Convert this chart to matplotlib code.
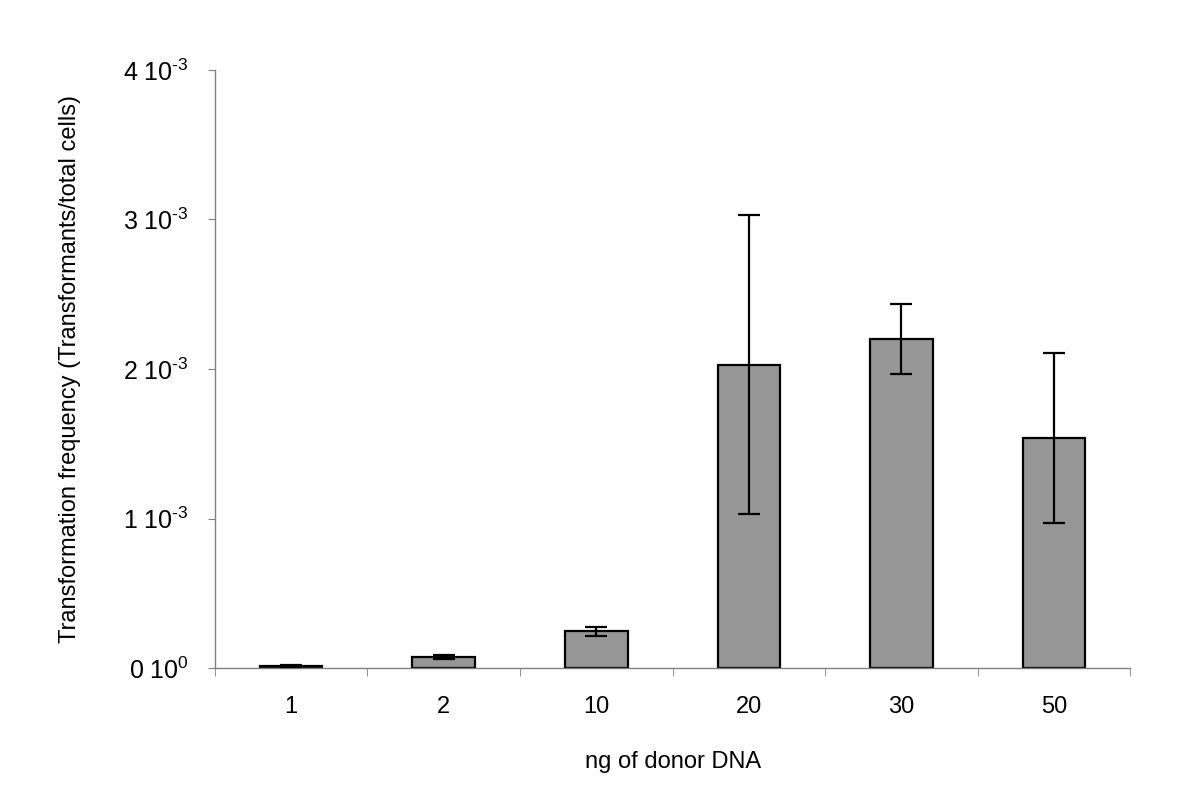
import numpy as np
import matplotlib
matplotlib.use('Agg')
import matplotlib.pyplot as plt

plt.rcParams['font.family'] = ['Liberation Sans', 'DejaVu Sans']
plt.rcParams['mathtext.fontset'] = 'custom'
plt.rcParams['mathtext.rm'] = 'Liberation Sans'

# data
doses = ['1', '2', '10', '20', '30', '50']
freq = [0.015e-3, 0.075e-3, 0.245e-3, 2.03e-3, 2.20e-3, 1.54e-3]
err = [0.006e-3, 0.015e-3, 0.03e-3, 1.0e-3, 0.235e-3, 0.57e-3]
ytick_vals = [0, 1e-3, 2e-3, 3e-3, 4e-3]
ytick_mant = ['0', '1', '2', '3', '4']
ytick_exp = ['0', '\u20103', '\u20103', '\u20103', '\u20103']
ytick_labels = ['%s 10$^{\\mathregular{%s}}$' % (m, e) for m, e in zip(ytick_mant, ytick_exp)]

fig = plt.figure(figsize=(12, 8), dpi=100)
ax = fig.add_axes([0.179, 0.165, 0.763, 0.7475])

x = np.arange(len(doses))
ax.bar(x, freq, width=0.41, color='#969696', edgecolor='black', linewidth=1.6, zorder=2)
ax.errorbar(x, freq, yerr=err, fmt='none', ecolor='black', elinewidth=1.6,
            capsize=8, capthick=1.6, zorder=3)

ax.set_xlim(-0.5, len(doses) - 0.5)
ax.set_ylim(0, 4e-3)
ax.set_yticks(ytick_vals)
ax.set_yticklabels(ytick_labels)
ax.set_xticks(x)
ax.set_xticklabels(doses)
ax.set_xticks(np.arange(-0.5, len(doses), 1.0), minor=True)

for s in ['top', 'right']:
    ax.spines[s].set_visible(False)
for s in ['left', 'bottom']:
    ax.spines[s].set_color('#808080')
    ax.spines[s].set_linewidth(1.0)

ax.tick_params(axis='x', which='major', length=0, pad=20, labelsize=17)
ax.tick_params(axis='x', which='minor', length=6, color='#808080', direction='out')
ax.tick_params(axis='y', length=5, color='#808080', direction='out', pad=14, labelsize=18)

ax.set_xlabel('ng of donor DNA', fontsize=17, labelpad=24)
ax.set_ylabel('Transformation frequency (Transformants/total cells)', fontsize=17, labelpad=30)

fig.savefig('out.png', dpi=100, facecolor='white')
